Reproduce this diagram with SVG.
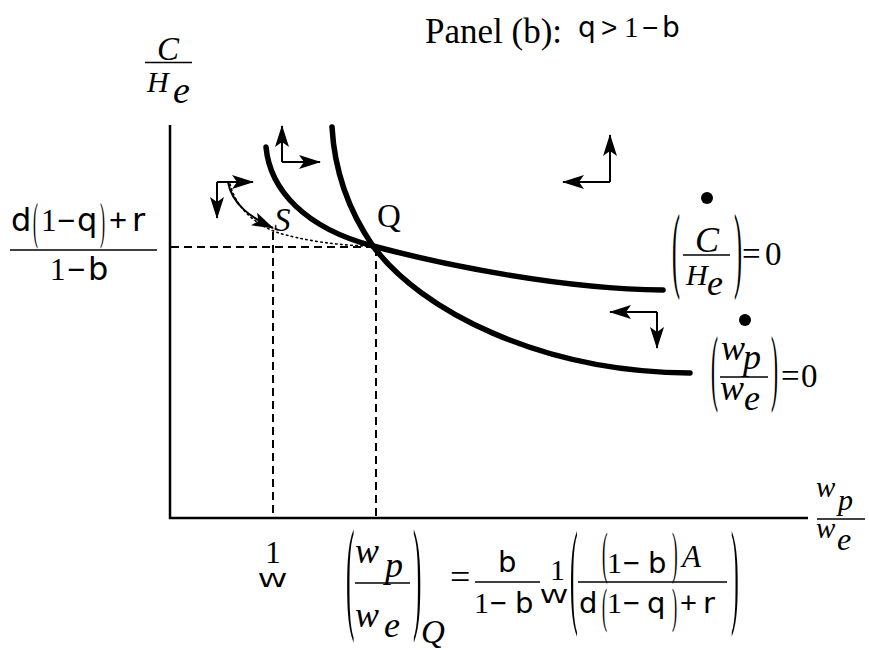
<svg xmlns="http://www.w3.org/2000/svg" width="869" height="650" viewBox="0 0 869 650">
<style>
.s{font-family:"DejaVu Sans","Liberation Sans",Arial,sans-serif;fill:#000}
.o{font-family:"Liberation Sans",Arial,sans-serif;fill:#000}
.t{font-family:"Liberation Serif","Times New Roman",serif;fill:#000}
.i{font-family:"Liberation Serif","Times New Roman",serif;font-style:italic;fill:#000}
.bar{stroke:#000;stroke-width:1.3}
.axis{stroke:#000;stroke-width:2.5;fill:none}
.dash{stroke:#000;stroke-width:2;stroke-dasharray:8 5;fill:none}
.curve{stroke:#000;stroke-width:5.5;fill:none;stroke-linecap:round}
.arr{stroke:#000;stroke-width:2;fill:none;marker-end:url(#ah)}
.dot{stroke:#000;stroke-width:1.6;fill:none;stroke-dasharray:1.5 3.5;stroke-linecap:round}
</style>
<defs>
<marker id="ah" markerUnits="userSpaceOnUse" markerWidth="24" markerHeight="16" refX="21" refY="7" orient="auto">
<path d="M0,0 L22,7 L0,14 L5,7 Z" fill="#000"/>
</marker>
</defs>
<rect width="869" height="650" fill="#fff"/>

<g id="title">
<text class="t" x="425" y="43" font-size="35">Panel (b):</text>
<text class="s" x="578" y="37" font-size="28">q</text>
<text class="o" x="601" y="37" font-size="28">&gt;</text>
<text class="t" x="624" y="37" font-size="29">1</text>
<text class="o" x="642" y="37" font-size="28">−</text>
<text class="s" x="662" y="37" font-size="28">b</text>
</g>

<g id="axes">
<path class="axis" d="M170,125 V518 H808"/>
<path class="dash" d="M171,247 H373"/>
<path class="dash" d="M273,232 V518"/>
<path class="dash" d="M376,248 V518"/>
</g>

<g id="y-axis-label">
<text class="i" x="168" y="60" font-size="33" text-anchor="middle">C</text>
<line class="bar" x1="145" y1="62.5" x2="192" y2="62.5"/>
<text class="i" x="147" y="92" font-size="30">H</text>
<text class="i" x="173" y="103" font-size="38">e</text>
</g>

<g id="y-value-label">
<text class="s" x="11" y="231" font-size="32">d</text>
<text class="t" font-size="50" transform="translate(33,238) scale(0.3,1)">(</text>
<text class="t" x="41" y="231" font-size="31">1</text>
<text class="o" x="57" y="231" font-size="31">−</text>
<text class="s" x="77" y="231" font-size="32">q</text>
<text class="t" font-size="50" transform="translate(100,238) scale(0.3,1)">)</text>
<text class="o" x="109" y="231" font-size="31">+</text>
<text class="s" x="132" y="231" font-size="32">r</text>
<line class="bar" x1="10" y1="250" x2="157" y2="250"/>
<text class="t" x="50" y="280" font-size="31">1</text>
<text class="o" x="67" y="280" font-size="31">−</text>
<text class="s" x="88" y="280" font-size="32">b</text>
</g>

<g id="curves">
<path id="curve-C" class="curve" d="M266,147 C270,190 305,228 373,246 C440,264 560,289 663,290"/>
<path id="curve-w" class="curve" d="M332,127 C335,180 355,220 373,246 C420,310 540,372 690,373"/>
</g>

<g id="connectors">
<path class="dot" d="M230,184 C236,208 255,224 276,232 C300,240 340,246 372,246"/>
<path class="arr" d="M228,182 C232,205 252,218 273,228"/>
<path class="arr" d="M282,162 V126"/>
<path class="arr" d="M282,162 H320"/>
<path class="arr" d="M217,182 V218"/>
<path class="arr" d="M217,182 H253"/>
<path class="arr" d="M610,182 V135"/>
<path class="arr" d="M610,182 H563"/>
<path class="arr" d="M657,312 H610"/>
<path class="arr" d="M657,312 V348"/>
</g>

<g id="point-S"><text class="i" x="274" y="231" font-size="33">S</text></g>
<g id="point-Q"><text class="t" x="377" y="227" font-size="33">Q</text></g>

<g id="label-C-dot">
<circle cx="707" cy="198" r="6" fill="#000"/>
<text class="t" font-size="96" transform="translate(672,280) scale(0.25,1)">(</text>
<text class="t" font-size="96" transform="translate(734,280) scale(0.25,1)">)</text>
<text class="i" x="707" y="252" font-size="36" text-anchor="middle">C</text>
<line class="bar" x1="683" y1="255" x2="730" y2="255"/>
<text class="i" x="686" y="285" font-size="30">H</text>
<text class="i" x="707" y="295" font-size="36">e</text>
<text class="t" x="742" y="265" font-size="33">=</text>
<text class="t" x="765" y="265" font-size="33">0</text>
</g>

<g id="label-w-dot">
<circle cx="745" cy="320" r="6" fill="#000"/>
<text class="t" font-size="84" transform="translate(711,395) scale(0.25,1)">(</text>
<text class="t" font-size="84" transform="translate(771,395) scale(0.25,1)">)</text>
<text class="i" x="721" y="360" font-size="36">w</text>
<text class="i" x="743" y="369" font-size="36">p</text>
<line class="bar" x1="720" y1="377" x2="768" y2="377"/>
<text class="i" x="720" y="400" font-size="36">w</text>
<text class="i" x="744" y="410" font-size="36">e</text>
<text class="t" x="781" y="387" font-size="33">=</text>
<text class="t" x="801" y="387" font-size="33">0</text>
</g>

<g id="x-axis-label">
<text class="i" x="816" y="497" font-size="29">w</text>
<text class="i" x="838" y="510" font-size="30">p</text>
<line class="bar" x1="817" y1="519" x2="865" y2="519"/>
<text class="i" x="816" y="538" font-size="29">w</text>
<text class="i" x="837" y="550" font-size="32">e</text>
</g>

<g id="x-value-S">
<text class="t" x="273" y="563" font-size="31" text-anchor="middle">1</text>
<text class="s" x="258" y="587" font-size="20" textLength="29" lengthAdjust="spacingAndGlyphs">W</text>
</g>

<g id="x-value-Q">
<text class="t" font-size="126" transform="translate(346,616) scale(0.2,1)">(</text>
<text class="t" font-size="126" transform="translate(413,616) scale(0.2,1)">)</text>
<text class="i" x="355" y="563" font-size="36">w</text>
<text class="i" x="385" y="577" font-size="36">p</text>
<line class="bar" x1="355" y1="583" x2="410" y2="583"/>
<text class="i" x="355" y="627" font-size="36">w</text>
<text class="i" x="384" y="637" font-size="36">e</text>
<text class="i" x="421" y="643" font-size="33">Q</text>
</g>

<g id="formula">
<text class="t" x="450" y="589" font-size="36">=</text>
<text class="s" x="498" y="572" font-size="29">b</text>
<line class="bar" x1="475" y1="582" x2="540" y2="582"/>
<text class="t" x="474" y="613" font-size="30">1</text>
<text class="o" x="490" y="613" font-size="29">−</text>
<text class="s" x="515" y="613" font-size="29">b</text>
<text class="t" x="550" y="580" font-size="30">1</text>
<text class="s" x="540" y="603" font-size="19" textLength="28" lengthAdjust="spacingAndGlyphs">W</text>
<text class="t" font-size="116" transform="translate(570,612) scale(0.2,1)">(</text>
<text class="t" font-size="116" transform="translate(731,612) scale(0.2,1)">)</text>
<text class="t" font-size="56" transform="translate(602,572) scale(0.3,1)">(</text>
<text class="t" x="607" y="573" font-size="30">1</text>
<text class="o" x="623" y="573" font-size="29">−</text>
<text class="s" x="648" y="573" font-size="29">b</text>
<text class="t" font-size="56" transform="translate(672,572) scale(0.3,1)">)</text>
<text class="i" x="682" y="567" font-size="31">A</text>
<line class="bar" x1="578" y1="582" x2="727" y2="582"/>
<text class="s" x="579" y="613" font-size="29">d</text>
<text class="t" font-size="48" transform="translate(602,622) scale(0.32,1)">(</text>
<text class="t" x="607" y="613" font-size="30">1</text>
<text class="o" x="623" y="613" font-size="29">−</text>
<text class="s" x="647" y="613" font-size="29">q</text>
<text class="t" font-size="48" transform="translate(672,622) scale(0.32,1)">)</text>
<text class="o" x="680" y="613" font-size="29">+</text>
<text class="s" x="703" y="613" font-size="29">r</text>
</g>
</svg>
